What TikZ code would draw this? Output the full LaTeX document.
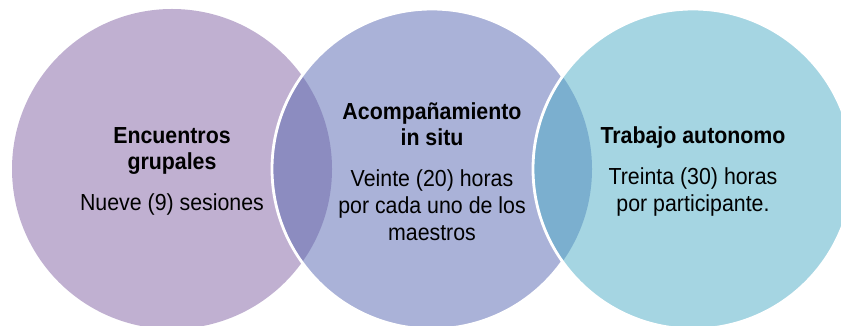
\documentclass[tikz,border=0pt]{standalone}
\usepackage{fontspec}
\setmainfont{Liberation Sans}[FakeStretch=0.92]
\usetikzlibrary{positioning}

\definecolor{lila}{HTML}{C0B0D1}
\definecolor{azul}{HTML}{AAB2D8}
\definecolor{celeste}{HTML}{A5D5E2}
\definecolor{lilaazul}{HTML}{8C8CC0}
\definecolor{azulceleste}{HTML}{7BAFCF}

\begin{document}
\begin{tikzpicture}[
  circulo/.style={circle, minimum size=8cm, inner sep=0pt, outer sep=0pt},
  borde/.style={draw=white, line width=2pt},
  texto/.style={align=center, text=black, yshift=-0.06cm, font=\fontsize{16.5pt}{19pt}\selectfont}
]
\useasboundingbox (0,0) rectangle (21.025,8.15);

% Circulos
\node[circulo, fill=lila] (encuentros) at (4.3,3.925) {};
\node[circulo, fill=azul, right=-1.5cm of encuentros] (acompanamiento) {};
\begin{scope}
  \clip (encuentros.center) circle (4cm);
  \fill[lilaazul] (acompanamiento.center) circle (4cm);
\end{scope}
\draw[borde] (acompanamiento.center) circle (4cm);

\node[circulo, fill=celeste, right=-1.475cm of acompanamiento] (trabajo) {};
\begin{scope}
  \clip (acompanamiento.center) circle (4cm);
  \fill[azulceleste] (trabajo.center) circle (4cm);
\end{scope}
\draw[borde] (trabajo.center) circle (4cm);

% Textos
\node[texto] (txtencuentros) at (encuentros.center)
  {\textbf{Encuentros}\\\textbf{grupales}\\[10pt]Nueve (9) sesiones};
\node[texto] (txtacompanamiento) at (acompanamiento.center)
  {\textbf{Acompañamiento}\\\textbf{in situ}\\[10pt]Veinte (20) horas\\por cada uno de los\\maestros};
\node[texto] (txttrabajo) at (trabajo.center)
  {\textbf{Trabajo autonomo}\\[10pt]Treinta (30) horas\\por participante.};

\end{tikzpicture}
\end{document}
